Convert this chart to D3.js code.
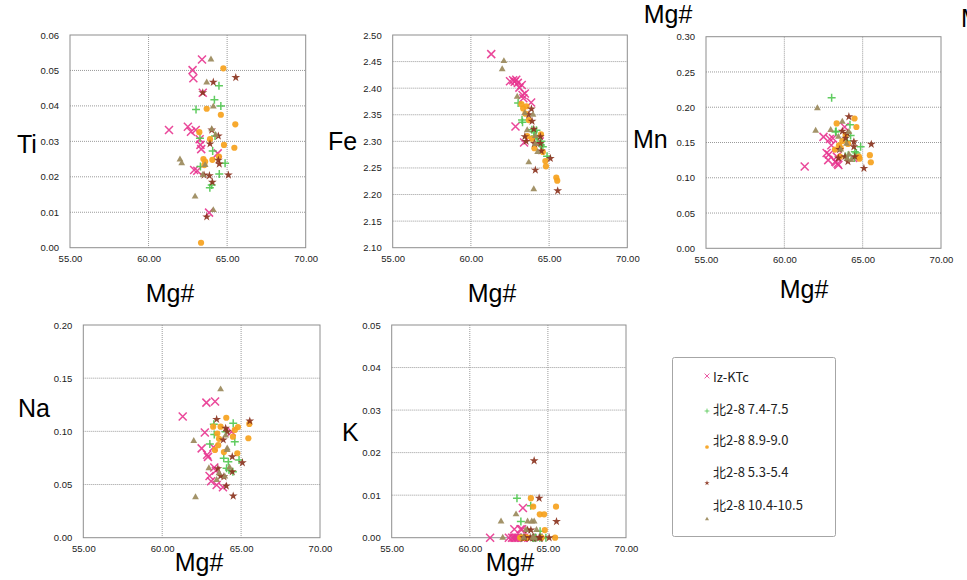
<!DOCTYPE html>
<html><head><meta charset="utf-8">
<script src="https://cdn.jsdelivr.net/npm/d3@7"></script>
<style>body{margin:0;background:#fff}svg{display:block}</style>
</head><body><svg id="c" width="967" height="580"></svg>
<script>
// ---------- DATA ----------
const seriesNames = ["Iz-KTc","北2-8 7.4-7.5","北2-8 8.9-9.0","北2-8 5.3-5.4","北2-8 10.4-10.5"];
const xTickValues = [55,60,65,70];
const tiTicks = [0,0.01,0.02,0.03,0.04,0.05,0.06];
const feTicks = [2.10,2.15,2.20,2.25,2.30,2.35,2.40,2.45,2.50];
const mnTicks = [0,0.05,0.10,0.15,0.20,0.25,0.30];
const naTicks = [0,0.05,0.10,0.15,0.20];
const kTicks  = [0,0.01,0.02,0.03,0.04,0.05];

// Iz-KTc
const izMg = [61.3,62.5,62.7,62.8,62.85,62.9,63.0,63.1,63.25,63.3,63.35,63.4,63.45,63.85,64.4];
const izTi = [.0332,.0341,.0327,.0501,.0478,.0219,.0332,.0217,.0306,.0290,.0278,.0531,.0437,.0099,.0266];
const izFe = [2.464,2.413,2.415,2.412,2.328,2.416,2.410,2.401,2.406,2.387,2.381,2.298,2.390,2.373,2.300];
const izMn = [.116,.158,.135,.125,.133,.155,.146,.156,.123,.122,.130,.120,.118,.172,.128];
const izNa = [.114,.084,.099,.127,.078,.076,.058,.053,.085,.066,.128,.063,.0496,.0474,.0997];
const izK  = [0,0,0,0,.002,0,0,0,.002,0,.002,.007,0,0,0];
// 北2-8 7.4-7.5
const g74Mg = [63.02,63.27,63.3,63.9,64.02,64.08,64.19,64.23,64.48,64.5,64.6,64.87];
const g74Ti = [.039,.0309,.0229,.0169,.0177,.0273,.0417,.0315,.0457,.0208,.040,.0238];
const g74Fe = [2.372,2.340,2.336,2.322,2.318,2.310,2.321,2.305,2.293,2.300,2.290,2.272];
const g74Mn = [.2135,.165,.166,.130,.152,.132,.175,.160,.128,.137,.135,.144];
const g74Na = [.088,.1066,.097,.0747,.0997,.0653,.0715,.0637,.062,.1075,.0903,.0731];
const g74K  = [.0093,.0038,0,.0075,0,0,0,0,0,.0015,0,0];
// 北2-8 8.9-9.0
const g89Mg = [63.23,63.34,63.49,63.55,63.6,63.7,63.91,64.06,64.48,64.6,64.76,64.8,65.46,65.52];
const g89Ti = [.0326,.0014,.025,.0233,.0243,.0392,.0306,.0248,.0257,.0375,.0506,.029,.0282,.0348];
const g89Fe = [2.370,2.362,2.352,2.366,2.310,2.340,2.305,2.287,2.313,2.280,2.263,2.253,2.232,2.226];
const g89Mn = [.140,.177,.146,.130,.142,.152,.161,.148,.184,.172,.130,.127,.132,.122];
const g89Na = [.1044,.0825,.098,.087,.093,.1044,.0805,.1128,.095,.1013,.0794,.104,.0935,.107];
const g89K  = [0,0,0,0,0,0,.0093,.0073,.0055,0,.0055,.0018,0,.0073];
// 北2-8 5.3-5.4
const g53Mg = [63.45,63.53,63.7,63.87,63.91,64.02,64.06,64.12,64.44,64.44,64.5,65.08,65.55];
const g53Ti = [.0437,.0205,.0087,.0203,.0293,.0332,.0185,.0467,.0315,.0247,.0236,.0205,.048];
const g53Fe = [2.309,2.300,2.350,2.361,2.338,2.323,2.296,2.246,2.309,2.296,2.282,2.268,2.207];
const g53Mn = [.128,.140,.166,.130,.156,.163,.123,.1866,.151,.144,.130,.1134,.1475];
const g53Na = [.1113,.065,.058,.092,.0574,.1029,.0486,.0997,.062,.0762,.0392,.0705,.1097];
const g53K  = [0,0,.0018,0,.0018,0,0,.0181,.0093,0,0,0,.0038];
// 北2-8 10.4-10.5
const g104Mg = [62.0,62.11,62.96,63.45,63.6,63.7,63.97,64.02,64.12,64.12,64.27];
const g104Ti = [.0249,.0238,.0144,.0205,.0233,.0466,.0531,.0334,.0398,.0106,.0318];
const g104Fe = [2.4355,2.451,2.384,2.353,2.321,2.2606,2.350,2.210,2.295,2.310,2.280];
const g104Mn = [.1667,.1985,.1677,.158,.140,.1795,.148,.127,.133,.165,.125];
const g104Na = [.091,.038,.0653,.0543,.0606,.1395,.0574,.096,.0825,.084,.066];
const g104K  = [.0038,0,.0055,0,.0018,.0038,.0038,0,.0038,0,.0018];

// ---------- BUILD ----------
const series = [
  {name:seriesNames[0], mg:izMg, ti:izTi, fe:izFe, mn:izMn, na:izNa, k:izK},
  {name:seriesNames[1], mg:g74Mg, ti:g74Ti, fe:g74Fe, mn:g74Mn, na:g74Na, k:g74K},
  {name:seriesNames[2], mg:g89Mg, ti:g89Ti, fe:g89Fe, mn:g89Mn, na:g89Na, k:g89K},
  {name:seriesNames[3], mg:g53Mg, ti:g53Ti, fe:g53Fe, mn:g53Mn, na:g53Na, k:g53K},
  {name:seriesNames[4], mg:g104Mg, ti:g104Ti, fe:g104Fe, mn:g104Mn, na:g104Na, k:g104K}
];
const styles = [
  {type:"x", color:"#e8348f"},
  {type:"plus", color:"#4fc64f"},
  {type:"circle", color:"#f6a21d"},
  {type:"star", color:"#8b3420"},
  {type:"tri", color:"#9b8a5c"}
];
const panels = [
  {key:"ti", label:"Ti", ticks:tiTicks, box:[70,35,305.7,247.7], lab:[17,153], mg:[170,302]},
  {key:"fe", label:"Fe", ticks:feTicks, box:[392.7,35,627.3,247.7], lab:[328,150], mg:[492,302]},
  {key:"mn", label:"Mn", ticks:mnTicks, box:[706,36.7,941,248.3], lab:[633,148], mg:[804,298]},
  {key:"na", label:"Na", ticks:naTicks, box:[83.3,325,320,537.7], lab:[18,417], mg:[199,571]},
  {key:"k",  label:"K",  ticks:kTicks,  box:[391.7,325,626,537.7], lab:[342,441], mg:[510,571]}
];

const svg = d3.select("#c");
const fmt = d3.format(".2f");

function drawMarker(g, st, x, y, s) {
  s = s || 1;
  if (st.type === "x") {
    g.append("path").attr("d", `M${x-4*s},${y-4*s}L${x+4*s},${y+4*s}M${x-4*s},${y+4*s}L${x+4*s},${y-4*s}`)
      .attr("stroke", st.color).attr("stroke-width", 1.5*s).attr("fill","none").attr("opacity",0.9);
  } else if (st.type === "plus") {
    g.append("path").attr("d", `M${x-4*s},${y}H${x+4*s}M${x},${y-4*s}V${y+4*s}`)
      .attr("stroke", st.color).attr("stroke-width", 1.5*s).attr("fill","none").attr("opacity",0.9);
  } else if (st.type === "circle") {
    g.append("circle").attr("cx", x).attr("cy", y).attr("r", 3.1*s).attr("fill", st.color).attr("opacity",0.92);
  } else if (st.type === "star") {
    g.append("path").attr("d", d3.symbol(d3.symbolStar, 24*s*s)()).attr("transform",`translate(${x},${y})`)
      .attr("fill", st.color).attr("opacity",0.92);
  } else {
    g.append("path").attr("d", d3.symbol(d3.symbolTriangle, 20*s*s)()).attr("transform",`translate(${x},${y})`)
      .attr("fill", st.color).attr("opacity",0.92);
  }
}

panels.forEach(p => {
  const [x0,y0,x1,y1] = p.box;
  const xs = d3.scaleLinear().domain([55,70]).range([x0,x1]);
  const ys = d3.scaleLinear().domain([p.ticks[0], p.ticks[p.ticks.length-1]]).range([y1,y0]);
  const g = svg.append("g");
  // grid
  g.selectAll(".hg").data(p.ticks.slice(1,-1)).join("line")
    .attr("x1",x0).attr("x2",x1).attr("y1",d=>ys(d)).attr("y2",d=>ys(d))
    .attr("stroke","#9a9a9a").attr("stroke-width",1).attr("stroke-dasharray","1,1");
  g.selectAll(".vg").data(xTickValues.slice(1,-1)).join("line")
    .attr("y1",y0).attr("y2",y1).attr("x1",d=>xs(d)).attr("x2",d=>xs(d))
    .attr("stroke","#9a9a9a").attr("stroke-width",1).attr("stroke-dasharray","1,1");
  g.append("rect").attr("x",x0).attr("y",y0).attr("width",x1-x0).attr("height",y1-y0)
    .attr("fill","none").attr("stroke","#8e8e8e").attr("stroke-width",1);
  // axes
  const ax = d3.axisLeft(ys).tickValues(p.ticks).tickFormat(fmt).tickSize(0).tickPadding(11);
  const ag = g.append("g").attr("transform",`translate(${x0},0)`).call(ax);
  ag.select(".domain").remove();
  ag.selectAll("text").attr("font-family","Liberation Sans, Arial").attr("font-size","9.5px").attr("fill","#222");
  const bx = d3.axisBottom(xs).tickValues(xTickValues).tickFormat(fmt).tickSize(0).tickPadding(8);
  const bg = g.append("g").attr("transform",`translate(0,${y1})`).call(bx);
  bg.select(".domain").remove();
  bg.selectAll("text").attr("font-family","Liberation Sans, Arial").attr("font-size","9.5px").attr("fill","#222");
  // labels
  g.append("text").attr("x",p.lab[0]).attr("y",p.lab[1]).text(p.label)
    .attr("font-family","Liberation Sans, Arial").attr("font-size","25px").attr("fill","#000");
  g.append("text").attr("x",p.mg[0]).attr("y",p.mg[1]).attr("text-anchor","middle").text("Mg#")
    .attr("font-family","Liberation Sans, Arial").attr("font-size","25px").attr("fill","#000");
  // points
  series.forEach((s,i) => {
    s.mg.forEach((m,j) => drawMarker(g, styles[i], xs(m), ys(s[p.key][j])));
  });
});

// stray labels from neighbouring charts
svg.append("text").attr("x",668).attr("y",23).attr("text-anchor","middle").text("Mg#")
  .attr("font-family","Liberation Sans, Arial").attr("font-size","25px");
svg.append("text").attr("x",961).attr("y",27).text("Mg#")
  .attr("font-family","Liberation Sans, Arial").attr("font-size","25px");

// legend
const lg = svg.append("g");
lg.append("rect").attr("x",672.5).attr("y",357.5).attr("width",163).attr("height",179).attr("rx",2)
  .attr("fill","#fff").attr("stroke","#a6a6a6").attr("stroke-width",1);
const legText = [382,414,445,477,510];
const legMark = [376,411,447,483,519];
seriesNames.forEach((n,i) => {
  drawMarker(lg, styles[i], 707, legMark[i], 0.6);
  lg.append("text").attr("x",713).attr("y",legText[i]).text(n)
    .attr("font-family","Noto Sans CJK SC, Noto Sans").attr("font-size","13px").attr("fill","#222");
});
</script></body></html>
